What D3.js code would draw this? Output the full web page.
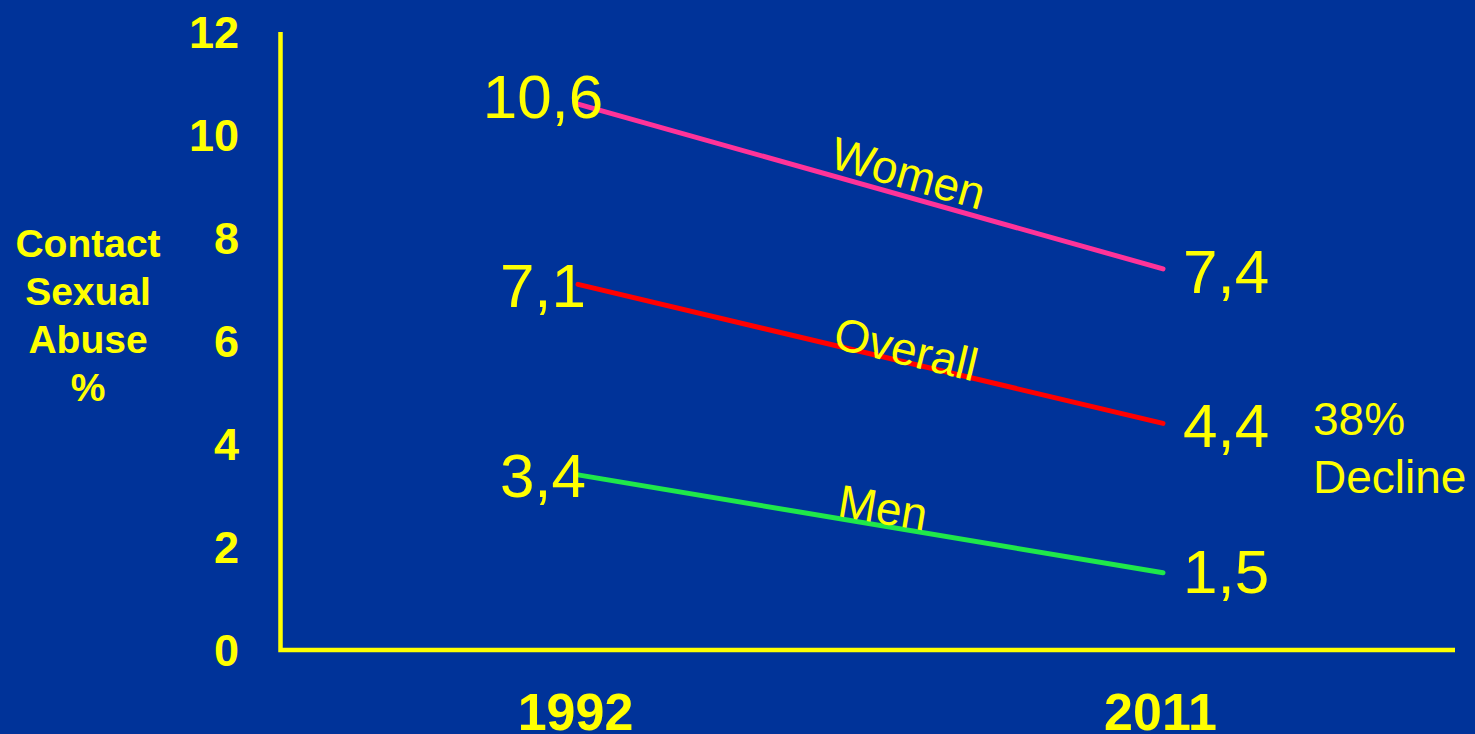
<!DOCTYPE html>
<html>
<head>
<meta charset="utf-8">
<script src="https://cdn.jsdelivr.net/npm/d3@7"></script>
<style>
  html, body { margin: 0; padding: 0; background: #003399; }
  svg { display: block; }
  text { font-family: Arial, "Liberation Sans", sans-serif; }
</style>
</head>
<body>
<script>
// Contact sexual abuse prevalence, 1992 vs 2011
const years = ["1992", "2011"];
const seriesNames = ["Women", "Overall", "Men"];
const womenValues = [10.6, 7.4];
const overallValues = [7.1, 4.4];
const menValues = [3.4, 1.5];
const valueLabels = [["10,6", "7,4"], ["7,1", "4,4"], ["3,4", "1,5"]];
const yTicks = [0, 2, 4, 6, 8, 10, 12];
const yTitle = ["Contact", "Sexual", "Abuse", "%"];
const declineNote = ["38%", "Decline"];

const series = seriesNames.map((name, i) => ({
  name,
  values: [womenValues, overallValues, menValues][i],
  labels: valueLabels[i]
}));

// styling per series
const style = {
  Women:   { color: "#FF3399", leftDy: 14, rightDy: 24, nameDy: -7, nameX: 902 },
  Overall: { color: "#FF0000", leftDy: 23, rightDy: 24, nameDy: 3,  nameX: 903 },
  Men:     { color: "#1FE84A", leftDy: 22, rightDy: 20, nameDy: -2, nameX: 880 }
};

const W = 1475, H = 734;
const yellow = "#FFFF00";

const svg = d3.select("body").append("svg")
  .attr("width", W).attr("height", H);

svg.append("rect").attr("width", W).attr("height", H).attr("fill", "#003399");

const x = d3.scalePoint().domain(years).range([578, 1163]);
const y = d3.scaleLinear().domain([0, 12]).range([650, 32]);

// axes
const axisX0 = 280.5, axisY0 = 650;
svg.append("path")
  .attr("d", `M${axisX0},${y(12)}V${axisY0}H1455`)
  .attr("fill", "none")
  .attr("stroke", yellow)
  .attr("stroke-width", 4.5);

// y tick labels
const yAxis = d3.axisLeft(y).tickValues(yTicks).tickSize(0).tickPadding(0).tickFormat(d3.format("d"));
const gy = svg.append("g").attr("transform", "translate(239,0)").call(yAxis);
gy.select(".domain").remove();
gy.selectAll("text")
  .attr("fill", yellow)
  .attr("font-size", 45)
  .attr("font-weight", "bold")
  .attr("dy", "0.35em");

// x tick labels
const xAxis = d3.axisBottom(x).tickSize(0).tickPadding(0);
const gx = svg.append("g").attr("transform", "translate(-3,0)").call(xAxis);
gx.select(".domain").remove();
gx.selectAll("text")
  .attr("fill", yellow)
  .attr("font-size", 52)
  .attr("font-weight", "bold")
  .attr("y", 730)
  .attr("dy", 0);

// y title
svg.append("text")
  .attr("x", 88).attr("y", 257)
  .attr("text-anchor", "middle")
  .attr("fill", yellow)
  .attr("font-size", 39)
  .attr("font-weight", "bold")
  .selectAll("tspan").data(yTitle).join("tspan")
  .attr("x", 88)
  .attr("dy", (d, i) => i === 0 ? 0 : 48)
  .text(d => d);

// lines
const line = d3.line().x((d, i) => x(years[i])).y(d => y(d));
svg.selectAll("path.series").data(series).join("path")
  .attr("class", "series")
  .attr("d", d => line(d.values))
  .attr("fill", "none")
  .attr("stroke", d => style[d.name].color)
  .attr("stroke-width", 5)
  .attr("stroke-linecap", "round");

// value labels
const valueFont = 62;
series.forEach(s => {
  const st = style[s.name];
  svg.append("text")
    .attr("x", x(years[0]) - 35)
    .attr("y", y(s.values[0]) + st.leftDy)
    .attr("text-anchor", "middle")
    .attr("fill", yellow)
    .attr("font-size", valueFont)
    .text(s.labels[0]);
  svg.append("text")
    .attr("x", x(years[1]) + 20)
    .attr("y", y(s.values[1]) + st.rightDy)
    .attr("text-anchor", "start")
    .attr("fill", yellow)
    .attr("font-size", valueFont)
    .text(s.labels[1]);

  // series name along the line
  const x0 = x(years[0]), x1 = x(years[1]);
  const y0 = y(s.values[0]), y1 = y(s.values[1]);
  const angle = Math.atan2(y1 - y0, x1 - x0) * 180 / Math.PI;
  const cx = st.nameX;
  const cy = y0 + (y1 - y0) * (cx - x0) / (x1 - x0);
  svg.append("text")
    .attr("transform", `translate(${cx},${cy}) rotate(${angle})`)
    .attr("y", st.nameDy)
    .attr("text-anchor", "middle")
    .attr("fill", yellow)
    .attr("font-size", 46)
    .text(s.name);
});

// decline note
svg.append("text")
  .attr("x", 1313).attr("y", 435)
  .attr("fill", yellow)
  .attr("font-size", 46)
  .selectAll("tspan").data(declineNote).join("tspan")
  .attr("x", 1313)
  .attr("dy", (d, i) => i === 0 ? 0 : 58)
  .text(d => d);
</script>
</body>
</html>
